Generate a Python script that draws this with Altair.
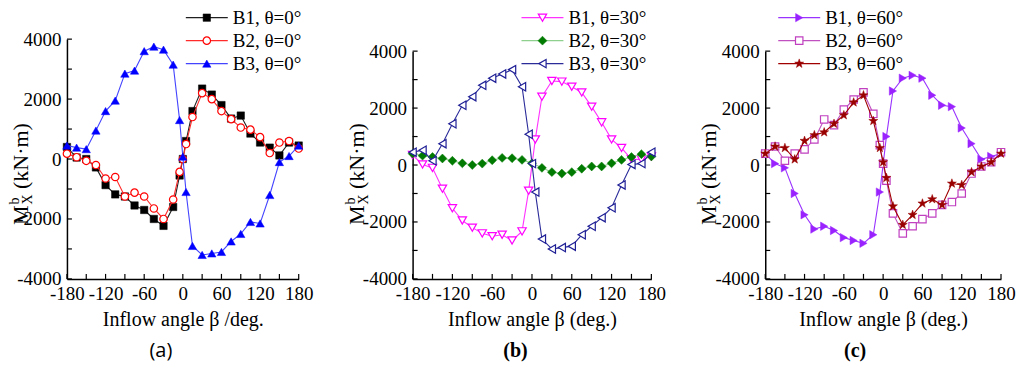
import altair as alt
import pandas as pd

FONT = "'Liberation Serif', 'Times New Roman', 'DejaVu Serif', serif"
H = 240

BETA = [-180, -165, -150, -135, -120, -105, -90, -75, -60, -45, -30, -15, -5, 0, 5,
        15, 30, 45, 60, 75, 90, 105, 120, 135, 150, 165, 180]
X_TICKS = list(range(-180, 181, 30))
X_LABELS = [-180, -120, -60, 0, 60, 120, 180]
Y_TICKS = list(range(-4000, 4001, 1000))
Y_LABELS = [-4000, -2000, 0, 2000, 4000]

# Panel (a) theta = 0
A_B1 = [400, 50, 0, -280, -870, -1180, -1250, -1550, -1700, -2000, -2230, -1600, -550, 0, 600,
        1600, 2350, 2150, 1800, 1350, 1450, 850, 550, 380, 120, 550, 450]
A_B2 = [180, 60, -60, -200, -650, -600, -1250, -1120, -1250, -1650, -2000, -1350, -430, 0, 500,
        1400, 2200, 2000, 1600, 1330, 1050, 980, 730, 200, 550, 600, 350]
A_B3 = [450, 380, 330, 950, 1600, 1950, 2850, 2950, 3600, 3750, 3650, 3150, 1300, 80, -1100,
        -2900, -3200, -3150, -3100, -2750, -2500, -2100, -2150, -1200, -100, 100, 450]
# Panel (b) theta = 30
B_B1 = [350, 20, -100, -830, -1520, -1950, -2200, -2400, -2500, -2450, -2650, -2330, -900, None, 900,
        2400, 2950, 2930, 2750, 2550, 2050, 1500, 900, 600, 200, 200, 300]
B_B2 = [400, 330, 280, 230, 150, 60, 0, 50, 170, 250, 240, 180, None, 60, None,
        -100, -250, -300, -250, -130, -50, -50, 60, 180, 280, 380, 300]
B_B3 = [450, 520, 150, 750, 1450, 2100, 2400, 2800, 3050, 3200, 3350, 2750, 1080, 50, -950,
        -2600, -2950, -2900, -2850, -2450, -2150, -1850, -1500, -700, 20, 50, 450]
# Panel (c) theta = 60
C_B1 = [400, 50, -100, -1000, -1750, -2250, -2150, -2300, -2550, -2650, -2750, -2450, -950, None, 1000,
        2600, 3050, 3150, 3050, 2450, 2100, 2050, 1300, 750, 200, 300, 400]
C_B2 = [400, 650, 150, 400, 550, 900, 1600, 1400, 1950, 2300, 2550, 1800, 700, 50, -550,
        -1700, -2400, -2150, -1900, -1700, -1400, -1300, -1000, -300, -50, 100, 450]
C_B3 = [400, 650, 600, 200, 850, 1050, 1150, 1450, 1750, 2200, 2450, 1550, 600, 100, -450,
        -1450, -2100, -1750, -1350, -1200, -1400, -650, -700, -250, -50, 100, 400]

LABELS_A = ["B1, θ=0°", "B2, θ=0°", "B3, θ=0°"]
LABELS_B = ["B1, θ=30°", "B2, θ=30°", "B3, θ=30°"]
LABELS_C = ["B1, θ=60°", "B2, θ=60°", "B3, θ=60°"]

STAR = ("M0,-1L0.235,-0.324L0.951,-0.309L0.38,0.124L0.588,0.809L0,0.4"
        "L-0.588,0.809L-0.38,0.124L-0.951,-0.309L-0.235,-0.324Z")


def make_panel(width, yrange, xtitle, series, labels, leg_x, ytitle_x, letter, letter_x, letter_bold):
    xs = alt.Scale(domain=[-180, 180], nice=False, zero=False)
    ys = alt.Scale(domain=[-4000, 4000], nice=False, zero=False, range=yrange)
    xax = alt.Axis(values=X_LABELS, labelExpr="datum.value + ''", ticks=False, tickSize=0, grid=False,
                   domainColor="black", domainWidth=1.5, labelFont=FONT, labelFontSize=19,
                   labelColor="black", labelPadding=6, labelFlush=False, labelOverlap=False,
                   title=xtitle, titleFont=FONT, titleFontSize=20, titleFontWeight="normal",
                   titleColor="black", titlePadding=6)
    yax = alt.Axis(values=Y_LABELS, labelExpr="datum.value + ''", ticks=False, tickSize=0, grid=False,
                   domainColor="black", domainWidth=1.5, labelFont=FONT, labelFontSize=19,
                   labelColor="black", labelPadding=6, labelFlush=False, labelOverlap=False, title=None)
    X = alt.X("beta:Q", scale=xs, axis=xax)
    Y = alt.Y("M:Q", scale=ys, axis=yax)

    layers = []
    layers.append(alt.Chart(pd.DataFrame({"beta": X_TICKS})).mark_rule(color="black", strokeWidth=1.2)
                  .encode(x=X, y=alt.value(H), y2=alt.value(H - 5)))
    layers.append(alt.Chart(pd.DataFrame({"M": Y_TICKS})).mark_rule(color="black", strokeWidth=1.2)
                  .encode(y=Y, x=alt.value(0), x2=alt.value(5)))

    def pt_mark(s):
        if s["hollow"]:
            return dict(shape=s["shape"], size=s["size"], filled=True, fill="white", stroke=s["mk"],
                        strokeWidth=1.2, opacity=1)
        return dict(shape=s["shape"], size=s["size"], filled=True, fill=s["mk"], stroke=s["mk"],
                    strokeWidth=0.5, opacity=1)

    for s in series:
        df = pd.DataFrame({"beta": BETA, "M": s["vals"]}).dropna()
        base = alt.Chart(df).encode(x=X, y=Y)
        layers.append(base.mark_line(color=s["ln"], strokeWidth=1.1))
        layers.append(base.mark_point(**pt_mark(s)))

    # legend
    rows = [-21.5, 1.5, 24.5]
    for s, lab, ry in zip(series, labels, rows):
        d = pd.DataFrame({"label": [lab]})
        layers.append(alt.Chart(d).mark_rule(color=s["ln"], strokeWidth=1.2)
                      .encode(x=alt.value(leg_x), x2=alt.value(leg_x + 42), y=alt.value(ry)))
        layers.append(alt.Chart(d).mark_point(**pt_mark(s))
                      .encode(x=alt.value(leg_x + 21), y=alt.value(ry)))
        layers.append(alt.Chart(d).mark_text(align="left", baseline="middle", font=FONT, fontSize=19,
                                             color="black")
                      .encode(x=alt.value(leg_x + 47), y=alt.value(ry), text="label:N"))

    # y title: M_X^b (kN·m)
    y0 = 186
    tparts = [("M", 0, 0, 22), ("b", -9, 20.5, 14), ("X", 4, 20.5, 14), ("(kN·m)", 0, 36, 22)]
    for txt, dx, dy, fs in tparts:
        layers.append(alt.Chart(pd.DataFrame({"t": [txt]}))
                      .mark_text(angle=270, align="left", baseline="alphabetic", font=FONT,
                                 fontSize=fs, color="black")
                      .encode(x=alt.value(ytitle_x + dx), y=alt.value(y0 - dy), text="t:N"))

    layers.append(alt.Chart(pd.DataFrame({"t": [letter]}))
                  .mark_text(align="center", baseline="middle",
                             font=FONT if letter_bold else "'Open Sans', sans-serif",
                             fontSize=20, fontWeight="bold" if letter_bold else "normal", color="black")
                  .encode(x=alt.value(letter_x), y=alt.value(312), text="t:N"))

    return alt.layer(*layers).properties(width=width, height=H)


pa = make_panel(232, [H, 0], "Inflow angle β /deg.", [
    dict(vals=A_B1, ln="#202020", mk="#000000", shape="square", size=55, hollow=False),
    dict(vals=A_B2, ln="#ff2a2a", mk="#ff0000", shape="circle", size=55, hollow=True),
    dict(vals=A_B3, ln="#4444ff", mk="#0000ff", shape="triangle-up", size=70, hollow=False),
], LABELS_A, 119, -38.5, "(a)", 94, False)

pb = make_panel(239, [H, 12], "Inflow angle β (deg.)", [
    dict(vals=B_B1, ln="#ff33ff", mk="#ff00ff", shape="triangle-down", size=70, hollow=True),
    dict(vals=B_B2, ln="#8fd08f", mk="#007a00", shape="diamond", size=80, hollow=False),
    dict(vals=B_B3, ln="#2b2b9a", mk="#1f1f96", shape="triangle-left", size=70, hollow=True),
], LABELS_B, 109, -49, "(b)", 103, True)

pc = make_panel(236, [H, 12], "Inflow angle β (deg.)", [
    dict(vals=C_B1, ln="#9933ff", mk="#9922ff", shape="triangle-right", size=70, hollow=False),
    dict(vals=C_B2, ln="#c050c0", mk="#c040c0", shape="square", size=55, hollow=True),
    dict(vals=C_B3, ln="#a00000", mk="#990000", shape=STAR, size=90, hollow=False),
], LABELS_C, 13, -49, "(c)", 90, True)

chart = alt.hconcat(pa, pb, pc, spacing=114, bounds="flush").properties(
    padding={"left": 0, "top": 0, "right": 0, "bottom": 4}
).configure_view(stroke=None)

chart.save("out.html", embed_options={"renderer": "svg", "actions": False})
